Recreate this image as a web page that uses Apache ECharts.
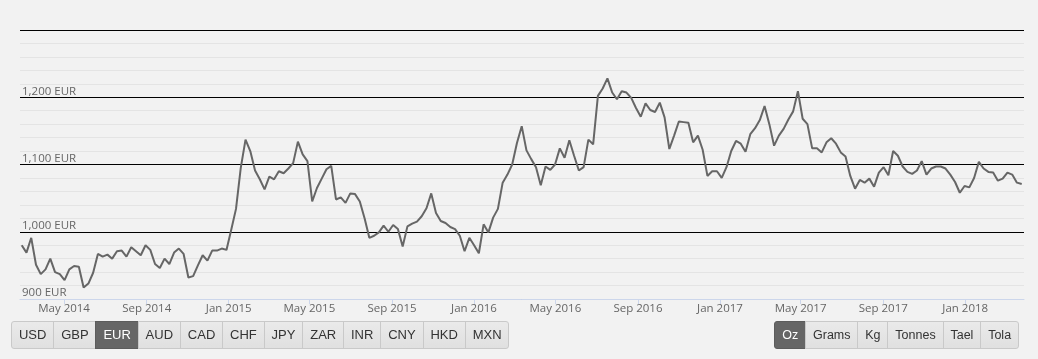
<!DOCTYPE html>
<html><head><meta charset="utf-8">
<script src="https://cdn.jsdelivr.net/npm/echarts@6/dist/echarts.min.js"></script>
<style>
html,body{margin:0;padding:0;background:#f2f2f2;}
#chart{position:absolute;left:0;top:0;width:1038px;height:359px;}
.grp{position:absolute;top:321px;height:28px;display:flex;font-family:Arial,"Liberation Sans",sans-serif;font-size:13px;}
#unit{font-size:12.5px;}
.btn{box-sizing:border-box;height:28px;line-height:26px;padding:0 6.9px;border:1px solid #c9c9c9;background:linear-gradient(#eaeaea,#e0e0e0);color:#333;margin-left:-1px;white-space:nowrap;}
.btn:first-child{border-radius:3px 0 0 3px;margin-left:0}
.btn:last-child{border-radius:0 3px 3px 0}
.btn.on{background:#666;color:#fff;border-color:#5c5c5c}
</style></head><body>
<div id="chart"></div>
<div class="grp" id="cur" style="left:11px"></div>
<div class="grp" id="unit" style="right:19px"></div>
<script>
const currencies = ['USD','GBP','EUR','AUD','CAD','CHF','JPY','ZAR','INR','CNY','HKD','MXN'];
const activeCurrency = 'EUR';
const units = ['Oz','Grams','Kg','Tonnes','Tael','Tola'];
const activeUnit = 'Oz';
const firstDate = [2014, 2, 27];
const lastDate = [2018, 3, 26];
const tickLabels = ['May 2014','Sep 2014','Jan 2015','May 2015','Sep 2015','Jan 2016','May 2016','Sep 2016','Jan 2017','May 2017','Sep 2017','Jan 2018'];
const yTickValues = [900, 1000, 1100, 1200, 1300];
const prices = [
980,969,991,951,937,944,960,940,937,928,944,949,948,917,923,939,967,963,966,960,
971,972,963,977,971,965,980,973,952,946,960,952,969,975,967,932,
934,950,965,957,972,972,975,973,1003,1034,1095,1137,1120,1091,1078,1063,1082,1078,1090,1087,
1094,1102,1134,1115,1105,1045,1065,1079,1093,1098,1048,1051,1043,1057,1056,
1045,1020,991,994,999,1009,1000,1010,1004,978,1008,1012,1015,1023,1035,1057,1028,1016,1013,1007,
1004,994,971,991,980,968,1011,999,1021,1034,1073,1085,1100,1132,
1157,1121,1108,1096,1069,1097,1092,1100,1124,1110,1136,1113,1091,1096,1137,1130,1202,1213,1228,1207,
1197,1209,1207,1199,1184,1171,1191,1181,1178,1192,1170,1123,1143,1164,1163,
1162,1133,1143,1122,1083,1090,1090,1080,1096,1120,1135,1131,1119,1145,1154,1166,1187,1160,1128,1143,
1153,1167,1179,1209,1168,1160,1124,1124,1118,1133,1139,1131,1118,1112,1083,
1064,1077,1073,1079,1067,1088,1096,1084,1120,1113,1097,1089,1086,1091,1105,1085,1094,1097,1097,1094,
1085,1074,1058,1068,1066,1080,1104,1094,1089,1088,1076,1079,1088,1085,1073,1071
];

function mk(id, list, active){
  const el = document.getElementById(id);
  list.forEach(t => {
    const b = document.createElement('div');
    b.className = 'btn' + (t === active ? ' on' : '');
    b.textContent = t;
    el.appendChild(b);
  });
}
mk('cur', currencies, activeCurrency);
mk('unit', units, activeUnit);

const monthNames = ['Jan','Feb','Mar','Apr','May','Jun','Jul','Aug','Sep','Oct','Nov','Dec'];
const t0 = Date.UTC(firstDate[0], firstDate[1]-1, firstDate[2]);
const t1 = Date.UTC(lastDate[0], lastDate[1]-1, lastDate[2]);
const step = (t1 - t0) / (prices.length - 1);
const seriesData = prices.map((v, i) => [t0 + i * step, v]);
const tickDates = tickLabels.map(s => {
  const [m, y] = s.split(' ');
  return Date.UTC(+y, monthNames.indexOf(m), 1);
});
const fmtDate = v => {
  const d = new Date(v);
  return monthNames[d.getUTCMonth()] + ' ' + d.getUTCFullYear();
};
const fmtNum = v => String(v).replace(/\B(?=(\d{3})+(?!\d))/g, ',');

const chart = echarts.init(document.getElementById('chart'), null, {renderer: 'canvas'});
chart.setOption({
  backgroundColor: 'transparent',
  animation: false,
  grid: {left: 20, right: 14, top: 30, bottom: 60, containLabel: false},
  xAxis: {
    type: 'value',
    min: t0 - 0.36 * step,
    max: t1 + 0.48 * step,
    z: 5,
    axisLine: {show: true, lineStyle: {color: '#ccd6eb', width: 1}},
    axisTick: {show: true, customValues: tickDates, length: 5, lineStyle: {color: '#ccd6eb'}},
    axisLabel: {
      customValues: tickDates,
      formatter: v => fmtDate(v),
      color: '#666', fontSize: 11.5, fontFamily: '"Open Sans", sans-serif', margin: 4
    },
    splitLine: {show: false}
  },
  yAxis: {
    type: 'value',
    min: yTickValues[0],
    max: yTickValues[yTickValues.length - 1],
    interval: yTickValues[1] - yTickValues[0],
    axisLine: {show: false},
    axisTick: {show: false},
    axisLabel: {
      inside: true, showMaxLabel: false, margin: 2,
      verticalAlign: 'bottom',
      formatter: v => fmtNum(v) + ' EUR',
      color: '#666', fontSize: 11.5, fontFamily: '"Open Sans", sans-serif'
    },
    splitLine: {show: true, lineStyle: {color: '#000', width: 1}},
    minorTick: {show: false, splitNumber: 5},
    minorSplitLine: {show: true, lineStyle: {color: '#e4e4e4', width: 1}}
  },
  series: [{
    type: 'line',
    data: seriesData,
    showSymbol: false,
    symbol: 'none',
    lineStyle: {color: '#666', width: 2},
    z: 3
  }]
});
</script>
</body></html>
